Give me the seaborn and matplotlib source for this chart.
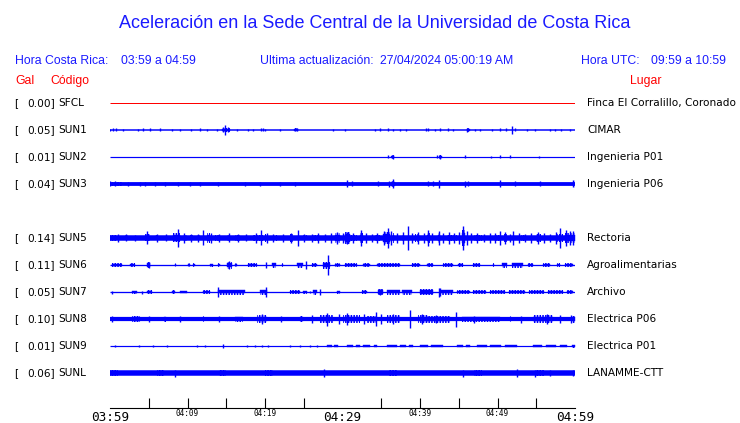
###############################################################################
# Import Libraries
###############################################################################
import matplotlib
matplotlib.use('Agg')
import matplotlib.pyplot as plt
import matplotlib.transforms as mtransforms
import numpy as np
import seaborn as sns


###############################################################################
# Data
###############################################################################
# stations, peak acceleration (Gal), site name, row on the plot (row 4 = SUN4, missing)
codes = ['SFCL', 'SUN1', 'SUN2', 'SUN3', 'SUN5', 'SUN6', 'SUN7', 'SUN8', 'SUN9', 'SUNL']
gal = [0.00, 0.05, 0.01, 0.04, 0.14, 0.11, 0.05, 0.10, 0.01, 0.06]
places = ['Finca El Corralillo, Coronado', 'CIMAR', 'Ingenieria P01', 'Ingenieria P06',
          'Rectoria', 'Agroalimentarias', 'Archivo', 'Electrica P06', 'Electrica P01',
          'LANAMME-CTT']
rows = [0, 1, 2, 3, 5, 6, 7, 8, 9, 10]

# resting trace thickness (px)
floor_px = [1.0, 1.5, 1.2, 3.8, 5.5, 1.3, 1.3, 4.2, 1.2, 5.5]

# time window, minutes after 03:59
window = [0, 60]
major_ticks = [0, 30, 60]
major_labels = ['03:59', '04:29', '04:59']
minor_ticks = [5, 10, 15, 20, 25, 35, 40, 45, 50, 55]
minor_labels = ['', '04:09', '', '04:19', '', '', '04:39', '', '04:49', '']

# spikes: (minute, half amplitude px) ; bursts: (minute start, minute end, half amplitude px)
sfcl_spikes = []
sfcl_bursts = []

sun1_spikes = [(0.0, 1), (0.4, 1.5), (0.8, 1.5), (1.7, 1), (3.6, 1), (4.3, 1.5), (5.2, 1.5),
               (6.5, 1.5), (8.0, 1), (9.0, 1), (10.5, 1), (11.6, 1.5), (12.5, 1), (13.8, 1),
               (14.6, 2.5), (14.8, 5), (15.2, 2.5), (16.4, 1), (17.8, 1), (18.5, 1),
               (19.5, 1.5), (19.7, 1.5), (20.0, 1), (21.9, 1), (23.9, 1.5), (24.1, 1.5),
               (28.8, 1), (30.3, 1), (34.2, 1), (34.8, 1.5), (35.9, 1.5), (36.5, 1),
               (37.4, 1), (38.2, 1), (40.8, 1.5), (41.0, 1.5), (41.9, 1), (42.6, 1.5),
               (43.6, 1.5), (44.3, 1), (46.1, 2), (47.1, 1), (47.7, 1), (49.3, 1),
               (50.3, 1.5), (51.1, 1.5), (51.9, 4), (52.3, 1.5), (53.8, 1), (54.8, 1),
               (56.8, 1), (57.4, 1), (58.2, 1), (59.4, 1)]
sun1_bursts = [(14.5, 15.5, 2.0), (23.8, 24.2, 1.5), (46.0, 46.4, 1.8)]

sun2_spikes = [(35.9, 1.5), (36.5, 2), (42.2, 1.5), (42.6, 2), (45.8, 1.5), (49.2, 1),
               (50.3, 1.5), (51.6, 1.5), (55.4, 1)]
sun2_bursts = [(36.3, 36.7, 1.8), (42.5, 42.8, 1.8)]

sun3_spikes = [(0.0, 2.5), (0.6, 2.5), (2.3, 2), (3.9, 2), (4.5, 2), (5.8, 2), (7.1, 2),
               (8.8, 2), (10.3, 2), (11.6, 2), (13.9, 2), (17.4, 2), (19.4, 2), (21.9, 2),
               (23.9, 2), (30.6, 3.5), (31.2, 2.5), (34.6, 2.5), (36.0, 3), (36.5, 4.5),
               (41.0, 2.5), (41.7, 2.5), (42.5, 4), (45.8, 3), (46.2, 2.5), (50.3, 3.5),
               (52.3, 2.5), (55.5, 2.5), (59.7, 3.5), (60.0, 3.5)]
sun3_bursts = [(0.0, 1.5, 2.2), (36.2, 36.8, 3.0)]

sun5_spikes = [(1.0, 4), (2.0, 3.5), (3.2, 3), (4.8, 6.5), (6.0, 4), (7.2, 3.5), (8.8, 9),
               (9.6, 5), (10.5, 4), (11.4, 4), (12.0, 7.5), (13.0, 5), (14.0, 4),
               (15.3, 4.5), (16.5, 4), (17.5, 3.5), (18.8, 5), (19.5, 7.5), (20.2, 5),
               (21.0, 4), (22.3, 4), (23.4, 5), (24.3, 8), (25.0, 4), (26.0, 4), (26.8, 5),
               (27.8, 4), (28.5, 5), (29.3, 6), (30.0, 5), (30.6, 6), (31.4, 5), (32.4, 8),
               (33.0, 5), (33.8, 4), (34.5, 5), (35.4, 7), (35.9, 10), (36.3, 7), (37.0, 5),
               (37.8, 6), (38.5, 12), (39.0, 5), (39.8, 6), (40.5, 5), (41.0, 8), (41.5, 5),
               (42.5, 7), (43.0, 5), (43.8, 6), (44.4, 5), (45.0, 6), (45.5, 12), (46.0, 7),
               (46.6, 5), (47.4, 5), (48.2, 4), (49.0, 5), (49.7, 5), (50.3, 7), (51.0, 6),
               (51.6, 4), (52.0, 7), (52.8, 5), (53.6, 4), (54.3, 5), (55.2, 6), (56.0, 5),
               (56.8, 4), (57.6, 6), (58.1, 10), (58.8, 8), (59.4, 7), (59.8, 7)]
sun5_bursts = [(0.0, 0.9, 3), (1.9, 2.3, 2.5), (4.5, 5.2, 3.5), (5.8, 6.2, 2.5),
               (8.1, 9.0, 4.5), (9.4, 9.9, 3), (10.3, 10.7, 2.5), (11.2, 11.6, 2.5),
               (12.5, 12.9, 5), (13.5, 14.2, 3), (15.1, 15.5, 3), (16.1, 16.8, 3),
               (18.5, 19.7, 3), (20.0, 20.4, 4), (21.4, 21.6, 3), (23.2, 23.6, 4),
               (24.9, 25.4, 2.5), (26.2, 27.1, 3), (29.0, 29.7, 5), (30.3, 31.0, 6),
               (31.0, 31.9, 3), (32.3, 32.7, 5), (34.2, 34.8, 3), (35.2, 36.1, 6),
               (36.5, 36.7, 5), (37.7, 37.9, 3), (39.4, 40.0, 4), (40.9, 41.3, 5),
               (42.3, 42.6, 5), (43.5, 44.8, 3), (45.4, 45.8, 8), (47.0, 48.0, 3),
               (49.5, 50.5, 3), (50.8, 51.2, 4), (53.0, 53.5, 3), (55.0, 55.6, 4),
               (57.5, 58.5, 4), (58.7, 60.0, 5)]

sun6_spikes = [(5.0, 3), (15.4, 4), (20.1, 3), (25.3, 4), (28.1, 10)]
sun6_bursts = [(0.3, 1.5, 2), (2.6, 3.2, 2), (4.8, 5.2, 3), (8.4, 8.5, 2), (10.0, 10.3, 2),
               (10.7, 11.0, 2), (12.9, 13.3, 1.5), (13.9, 14.2, 2), (15.1, 15.7, 3.5),
               (16.1, 16.4, 2), (17.8, 19.0, 2), (20.9, 21.4, 2.5), (22.2, 22.3, 2),
               (24.1, 24.9, 2.5), (26.1, 26.7, 2), (27.5, 28.4, 3.5), (29.0, 29.7, 2),
               (30.3, 31.9, 2), (32.6, 33.5, 2), (34.5, 37.4, 1.8), (39.0, 40.0, 2),
               (40.9, 41.7, 2), (43.0, 44.3, 2), (44.9, 45.5, 2), (46.8, 47.7, 2),
               (49.4, 49.6, 2), (50.6, 51.2, 2.5), (51.9, 53.3, 2.5), (53.9, 54.6, 2),
               (55.9, 56.8, 2), (57.7, 58.1, 2), (58.7, 59.7, 2)]

sun7_spikes = [(0.3, 1.5), (4.1, 1.5), (13.9, 5.5), (20.1, 5), (25.8, 1), (27.1, 3),
               (34.9, 3), (42.4, 4.5), (42.6, 4)]
sun7_bursts = [(2.8, 3.5, 1.5), (4.8, 5.4, 2), (8.0, 8.4, 2), (9.0, 9.9, 1), (12.0, 12.9, 2),
               (13.9, 17.4, 2.5), (19.4, 20.3, 2.5), (23.2, 24.5, 2), (24.9, 25.4, 1.5),
               (26.2, 26.7, 2.5), (29.3, 29.7, 1.5), (32.5, 33.2, 2), (34.6, 35.2, 3),
               (35.7, 37.4, 2.5), (37.7, 39.0, 2.5), (40.0, 41.7, 3), (42.6, 44.3, 2.5),
               (44.8, 46.5, 2), (46.8, 48.5, 2), (49.0, 51.0, 2.2), (51.5, 53.5, 2),
               (54.0, 56.0, 2), (56.5, 58.5, 2.2), (59.0, 59.7, 2)]

sun8_spikes = [(0.3, 3), (5.0, 3), (9.0, 3), (14.0, 3), (19.6, 5), (22.0, 3), (26.0, 4),
               (28.0, 6.5), (29.5, 5), (30.6, 6), (32.8, 5), (34.3, 7), (35.0, 5),
               (36.5, 5), (38.7, 9), (40.3, 5), (42.0, 4.5), (44.6, 7.5), (47.0, 3.5),
               (53.0, 3.5), (56.4, 5), (58.0, 4.5), (59.5, 4)]
sun8_bursts = [(2.8, 3.9, 3), (7.0, 7.2, 2.5), (12.0, 12.1, 3), (16.1, 17.2, 2.5),
               (19.0, 20.3, 4), (24.5, 24.9, 3), (27.1, 28.8, 4), (30.1, 32.3, 4),
               (33.2, 34.5, 3.5), (35.7, 37.4, 4), (39.7, 41.0, 4), (40.9, 43.9, 3.5),
               (45.4, 50.3, 2.5), (51.6, 51.7, 3), (54.6, 57.2, 4), (59.6, 60.0, 3.5)]

sun9_spikes = [(0.6, 1.2), (3.7, 1), (5.5, 1), (7.4, 1), (11.2, 1), (12.3, 1), (14.6, 1.8),
               (17.7, 1), (18.7, 1), (19.6, 1), (20.4, 1), (23.2, 1), (24.5, 1), (25.8, 1),
               (26.7, 1)]
sun9_bursts = [(28.0, 28.6, 1.2), (28.9, 29.4, 1.2), (30.6, 31.4, 1.2), (31.8, 32.3, 1.2),
               (32.6, 33.6, 1.2), (34.0, 34.5, 1.2), (35.7, 37.0, 1.2), (37.4, 38.2, 1.2),
               (38.6, 39.1, 1.2), (40.0, 41.0, 1.2), (41.4, 43.0, 1.2), (44.8, 45.5, 1.2),
               (45.9, 46.5, 1.2), (47.4, 48.6, 1.2), (49.0, 50.5, 1.2), (51.0, 52.5, 1.2),
               (54.6, 55.8, 1.2), (56.2, 57.6, 1.2), (58.0, 59.0, 1.2), (59.6, 60.0, 1.5)]

sunl_spikes = [(8.4, 3.5), (27.6, 4), (45.5, 3.5), (52.5, 4.5), (54.8, 3.5), (56.8, 3),
               (59.7, 3)]
sunl_bursts = [(0.0, 1.0, 3.2), (6.0, 7.0, 3.2), (14.0, 15.0, 3.2), (20.0, 21.0, 3.0),
               (36.0, 37.0, 3.0), (47.0, 48.0, 3.0), (55.0, 56.0, 3.2)]

spikes = [sfcl_spikes, sun1_spikes, sun2_spikes, sun3_spikes, sun5_spikes,
          sun6_spikes, sun7_spikes, sun8_spikes, sun9_spikes, sunl_spikes]
bursts = [sfcl_bursts, sun1_bursts, sun2_bursts, sun3_bursts, sun5_bursts,
          sun6_bursts, sun7_bursts, sun8_bursts, sun9_bursts, sunl_bursts]


###############################################################################
# Settings
###############################################################################
sns.set_theme(style='white')
plt.rcParams['font.family'] = ['DejaVu Sans']
plt.rcParams['hatch.linewidth'] = 1.1

W, H = 740, 423
BLUE = '#0000ff'
HDR_BLUE = '#1a1aff'
RED = '#ff0000'
ROW_PX = 27.0          # vertical distance between traces in px


def fx(px):
    return px / W


def fy(py):
    return 1 - py / H


###############################################################################
# Plot
###############################################################################
fig = plt.figure(figsize=(W / 100, H / 100), dpi=100)
fig.patch.set_facecolor('white')

# trace panel: rows 0..10 from y=103 px, time axis line at y=408 px
top_px, axis_px = 103 - ROW_PX / 2, 408
ax = fig.add_axes([fx(110), fy(axis_px), fx(575) - fx(110), (axis_px - top_px) / H])
ax.set_facecolor('white')
ax.set_xlim(window[0], window[1])
ax.set_ylim((axis_px - 103) / ROW_PX, -0.5)

for i, code in enumerate(codes):
    c = RED if code == 'SFCL' else BLUE
    r = rows[i]
    ax.hlines(r, window[0], window[1], color=c, lw=floor_px[i] * 0.72)
    for t0, t1, a in bursts[i]:
        h = a / ROW_PX
        # dense core plus a striped (jagged looking) envelope
        ax.broken_barh([(t0, t1 - t0)], (r - 0.6 * h, 1.2 * h), facecolors=c,
                       edgecolor=c, lw=0.3)
        ax.broken_barh([(t0, t1 - t0)], (r - h, 2 * h), facecolors='none',
                       edgecolor=c, lw=0, hatch='||||||')
    if spikes[i]:
        t = [s[0] for s in spikes[i]]
        a = np.array([s[1] for s in spikes[i]]) / ROW_PX
        ax.vlines(t, r - a, r + a, color=c, lw=1.0)

# time axis
sns.despine(ax=ax, left=True, top=True, right=True)
ax.spines['bottom'].set_color('black')
ax.spines['bottom'].set_linewidth(0.8)
ax.set_yticks([])
ax.set_xticks(major_ticks)
ax.set_xticklabels(major_labels, family='DejaVu Sans Mono', fontsize=9.2)
ax.set_xticks(minor_ticks, minor=True)
ax.set_xticklabels(minor_labels, minor=True, family='DejaVu Sans Mono', fontsize=5.5)
ax.tick_params(axis='x', which='major', direction='in', length=7, width=0.8,
               color='black', pad=2, labelcolor='black')
ax.tick_params(axis='x', which='minor', direction='in', length=7, width=0.8,
               color='black', pad=0.5, labelcolor='black', bottom=True)

# station labels
lab = mtransforms.blended_transform_factory(fig.transFigure, ax.transData)
for i, code in enumerate(codes):
    r = rows[i]
    ax.text(fx(14), r, '[', transform=lab, ha='left', va='center', fontsize=7.6,
            color='black')
    ax.text(fx(55), r, f'{gal[i]:.2f}]', transform=lab, ha='right', va='center',
            fontsize=7.6, color='black')
    ax.text(fx(58), r, code, transform=lab, ha='left', va='center', fontsize=7.6,
            color='black')
    ax.text(fx(587), r, places[i], transform=lab, ha='left', va='center',
            fontsize=7.6, color='black')

# header
hdr = dict(family='Liberation Sans', color=HDR_BLUE, va='center')
fig.text(fx(375), fy(23.5), 'Aceleración en la Sede Central de la Universidad de Costa Rica',
         ha='center', fontsize=13, **hdr)
fig.text(fx(15), fy(61), 'Hora Costa Rica:', ha='left', fontsize=8.8, **hdr)
fig.text(fx(121), fy(61), '03:59 a 04:59', ha='left', fontsize=8.8, **hdr)
fig.text(fx(260), fy(61), 'Ultima actualización:', ha='left', fontsize=8.8, **hdr)
fig.text(fx(380), fy(61), '27/04/2024 05:00:19 AM', ha='left', fontsize=8.8, **hdr)
fig.text(fx(581), fy(61), 'Hora UTC:', ha='left', fontsize=8.8, **hdr)
fig.text(fx(651), fy(61), '09:59 a 10:59', ha='left', fontsize=8.8, **hdr)

red = dict(family='Liberation Sans', color=RED, va='center', ha='left', fontsize=8.8)
fig.text(fx(15), fy(81), 'Gal', **red)
fig.text(fx(50), fy(81), 'Código', **red)
fig.text(fx(630), fy(81), 'Lugar', **red)

fig.savefig('out.png', dpi=100, facecolor='white')
plt.close(fig)
